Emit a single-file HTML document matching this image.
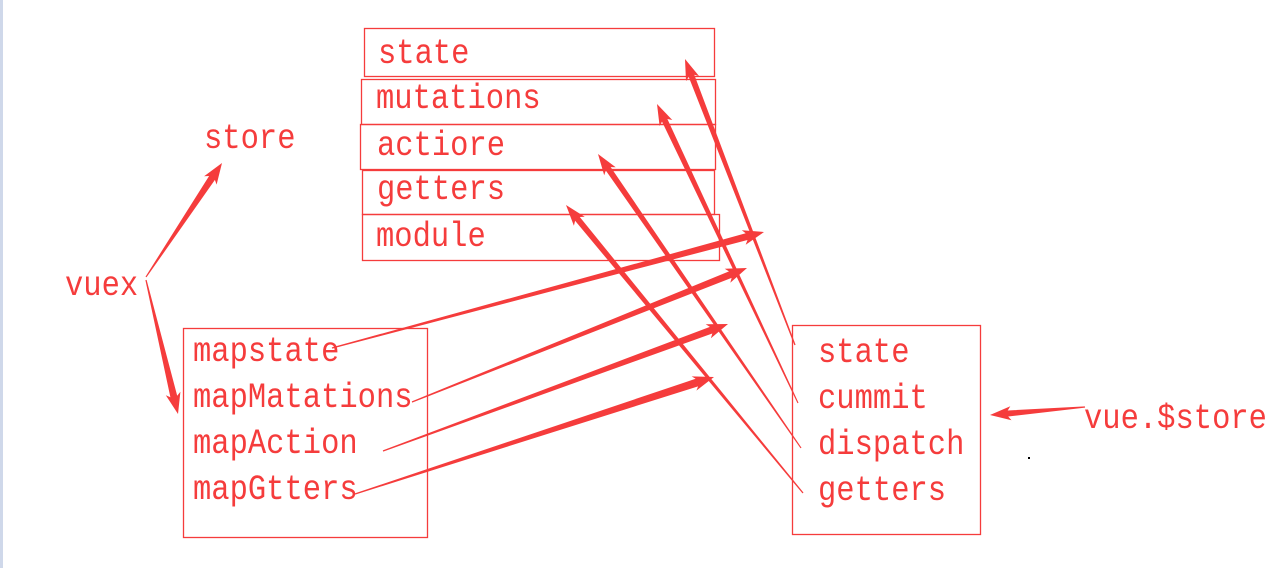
<!DOCTYPE html>
<html><head><meta charset="utf-8"><style>
html,body{margin:0;padding:0;background:#fff;width:1277px;height:568px;overflow:hidden}
svg{display:block}
text{font-family:"Liberation Mono",monospace;font-size:30.5px;fill:#f53c3c}
rect{fill:none;stroke:#f53c3c;stroke-width:1.3}
</style></head><body>
<svg id="s" width="1277" height="568" xmlns="http://www.w3.org/2000/svg">
<rect x="0" y="0" width="3" height="568" style="fill:#cfd8ea;stroke:none"/>
<rect x="364.5" y="28.5" width="350" height="48"/>
<rect x="361.5" y="79.5" width="354" height="45"/>
<rect x="360.5" y="124.5" width="355" height="45"/>
<rect x="362.5" y="170.5" width="352" height="44"/>
<rect x="362.5" y="214.5" width="357" height="46"/>
<rect x="183.5" y="328.5" width="244" height="209"/>
<rect x="792.5" y="325.5" width="188" height="209"/>
<g transform="translate(0,0)">
<text x="378" y="63" transform="translate(0,-9.45) scale(1,1.15)">state</text>
<text x="376" y="108" transform="translate(0,-16.2) scale(1,1.15)">mutations</text>
<text x="377" y="155" transform="translate(0,-23.25) scale(1,1.15)">actiore</text>
<text x="377" y="199" transform="translate(0,-29.85) scale(1,1.15)">getters</text>
<text x="376" y="246" transform="translate(0,-36.9) scale(1,1.15)">module</text>
<text x="204" y="148" transform="translate(0,-22.2) scale(1,1.15)">store</text>
<text x="65" y="295" transform="translate(0,-44.25) scale(1,1.15)">vuex</text>
<text x="193" y="361" transform="translate(0,-54.15) scale(1,1.15)">mapstate</text>
<text x="193" y="407" transform="translate(0,-61.05) scale(1,1.15)">mapMatations</text>
<text x="193" y="453" transform="translate(0,-67.95) scale(1,1.15)">mapAction</text>
<text x="193" y="499" transform="translate(0,-74.85) scale(1,1.15)">mapGtters</text>
<text x="818" y="362" transform="translate(0,-54.3) scale(1,1.15)">state</text>
<text x="818" y="408" transform="translate(0,-61.2) scale(1,1.15)">cummit</text>
<text x="818" y="454" transform="translate(0,-68.1) scale(1,1.15)">dispatch</text>
<text x="818" y="500" transform="translate(0,-75) scale(1,1.15)">getters</text>
<text x="1084" y="428" transform="translate(0,-64.2) scale(1,1.15)">vue.$store</text>
</g>
<rect x="1028" y="457" width="2" height="2" style="fill:#000;stroke:none"/>
</svg>
<script>
var s=document.getElementById('s');
function arrow(x1,y1,x2,y2,w,hl,hw){
 var dx=x2-x1,dy=y2-y1,L=Math.hypot(dx,dy),ux=dx/L,uy=dy/L,nx=-uy,ny=ux;
 var bx=x2-ux*hl,by=y2-uy*hl;
 var p=[[x1+nx*0.6,y1+ny*0.6],[bx+nx*w/2,by+ny*w/2],[bx+nx*hw/2-ux*3,by+ny*hw/2-uy*3],[x2,y2],[bx-nx*hw/2-ux*3,by-ny*hw/2-uy*3],[bx-nx*w/2,by-ny*w/2],[x1-nx*0.6,y1-ny*0.6]];
 var e=document.createElementNS('http://www.w3.org/2000/svg','polygon');
 e.setAttribute('points',p.map(function(q){return q[0].toFixed(1)+','+q[1].toFixed(1)}).join(' '));
 e.setAttribute('fill','#f53c3c');s.appendChild(e);
}
arrow(146,277,222,163,7,18,15);
arrow(146,280,178,414,7,18,15);
arrow(332,348,764,232,7,18,15);
arrow(412,402,747,268,7,18,15);
arrow(383,451,728,324,7,18,15);
arrow(355,494,714,377,8,18,15);
arrow(795,345,685,59,6,18,14);
arrow(798,403,657,104,6,18,14);
arrow(801,448,598,154,6,18,14);
arrow(803,493,566,205,6,18,14);
arrow(1085,407,990,415,6,18,14);
</script>
</body></html>
